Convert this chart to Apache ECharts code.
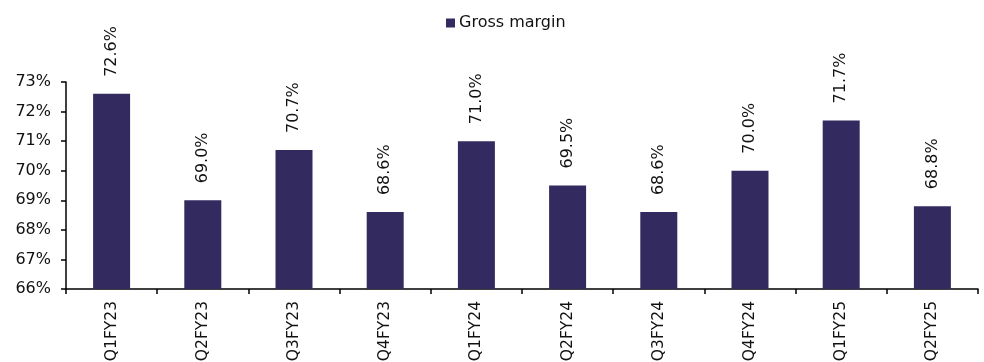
<!DOCTYPE html>
<html>
<head>
<meta charset="utf-8">
<script src="https://cdn.jsdelivr.net/npm/echarts@6/dist/echarts.min.js"></script>
<style>
  html, body { margin: 0; padding: 0; background: #fff; }
  #chart { width: 984px; height: 362px; }
</style>
</head>
<body>
<div id="chart"></div>
<script>
const quarters = ['Q1FY23', 'Q2FY23', 'Q3FY23', 'Q4FY23', 'Q1FY24', 'Q2FY24', 'Q3FY24', 'Q4FY24', 'Q1FY25', 'Q2FY25'];
const grossMargin = [72.6, 69.0, 70.7, 68.6, 71.0, 69.5, 68.6, 70.0, 71.7, 68.8];
const yTicks = [66, 67, 68, 69, 70, 71, 72, 73];

const chart = echarts.init(document.getElementById('chart'));
const font = 'Verdana, "DejaVu Sans", sans-serif';

const option = {
  animation: false,
  textStyle: { fontFamily: font },
  legend: {
    top: 10,
    left: 441,
    itemWidth: 9,
    itemHeight: 9,
    itemGap: 4,
    icon: 'rect',
    textStyle: { fontFamily: font, fontSize: 16, color: '#111', padding: [0, 0, 0, -1] },
    data: ['Gross margin']
  },
  grid: {
    left: 66,
    right: 6,
    top: 82,
    bottom: 73,
    outerBoundsMode: 'none',
    containLabel: false
  },
  xAxis: {
    type: 'category',
    data: quarters,
    axisLine: { lineStyle: { color: '#000', width: 1.5 } },
    axisTick: { show: true, alignWithLabel: false, length: 5, lineStyle: { color: '#000', width: 1.5 } },
    axisLabel: {
      rotate: 90,
      margin: 12,
      fontFamily: font,
      fontSize: 15.5,
      color: '#111'
    }
  },
  yAxis: {
    type: 'value',
    min: yTicks[0],
    max: yTicks[yTicks.length - 1],
    interval: 1,
    splitLine: { show: false },
    axisLine: { show: true, lineStyle: { color: '#000', width: 1.5 } },
    axisTick: { show: true, length: 5, lineStyle: { color: '#000', width: 1.5 } },
    axisLabel: {
      margin: 15,
      fontFamily: font,
      fontSize: 16,
      color: '#111',
      formatter: v => v + '%'
    }
  },
  series: [{
    name: 'Gross margin',
    type: 'bar',
    data: grossMargin,
    barWidth: 37,
    itemStyle: { color: '#332a5f' },
    label: {
      show: true,
      position: 'top',
      rotate: 90,
      align: 'left',
      verticalAlign: 'middle',
      distance: 17,
      fontFamily: font,
      fontSize: 16,
      color: '#111',
      formatter: p => p.value.toFixed(1) + '%'
    }
  }]
};

chart.setOption(option);
</script>
</body>
</html>
